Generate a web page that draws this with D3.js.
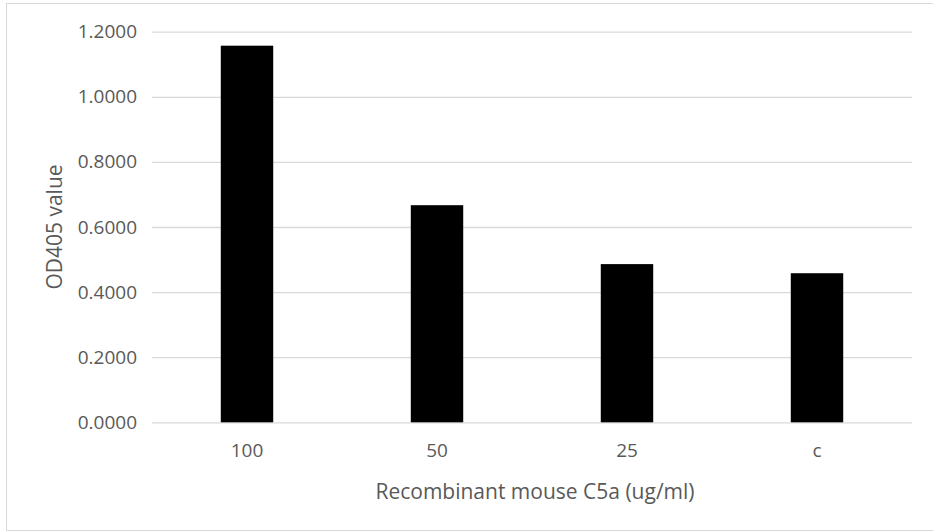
<!DOCTYPE html>
<html>
<head>
<meta charset="utf-8">
<script src="https://cdn.jsdelivr.net/npm/d3@7"></script>
<style>
  body { margin: 0; background: #fff; }
  text { font-family: "Open Sans", sans-serif; fill: #595959; }
</style>
</head>
<body>
<svg></svg>
<script>
const categories = ["100", "50", "25", "c"]
const odValues = [1.157, 0.667, 0.486, 0.458]
const yTicks = [0, 0.2, 0.4, 0.6, 0.8, 1.0, 1.2]

const [WIDTH, HEIGHT] = [933, 532]
const plot = { left: 152, right: 912, top: 31.7, bottom: 422.3 }

const svg = d3.select("svg")
  .attr("width", WIDTH)
  .attr("height", HEIGHT)

// chart border
svg.append("rect")
  .attr("x", 6.5)
  .attr("y", 3.5)
  .attr("width", WIDTH - 6)
  .attr("height", 527)
  .attr("fill", "white")
  .attr("stroke", "#d9d9d9")

const x = d3.scaleBand()
  .domain(categories)
  .range([plot.left, plot.right])
  .paddingInner(0.724)
  .paddingOuter(0.362)

const y = d3.scaleLinear()
  .domain([0, 1.2])
  .range([plot.bottom, plot.top])

// gridlines + tick labels
const yAxis = d3.axisLeft(y)
  .tickValues(yTicks)
  .tickFormat(d3.format(".4f"))
  .tickSize(-(plot.right - plot.left))
  .tickPadding(15)

svg.append("g")
  .attr("transform", `translate(${plot.left},0)`)
  .call(yAxis)
  .call((g) => g.select(".domain").remove())
  .call((g) => g.selectAll(".tick line").attr("stroke", "#d9d9d9").attr("stroke-width", 1.3))
  .call((g) => g.selectAll(".tick text").attr("font-size", 19).attr("fill", "#666"))

svg.append("g")
  .selectAll("rect")
  .data(odValues)
  .enter()
  .append("rect")
  .attr("x", (d, i) => x(categories[i]))
  .attr("y", (d) => y(d))
  .attr("width", x.bandwidth())
  .attr("height", (d) => y(0) - y(d))
  .attr("fill", "#000")

const xAxis = d3.axisBottom(x).tickSize(0).tickPadding(21)

svg.append("g")
  .attr("transform", `translate(0,${plot.bottom})`)
  .call(xAxis)
  .call((g) => g.select(".domain").remove())
  .call((g) => g.selectAll(".tick text").attr("font-size", 19).attr("fill", "#666"))

// axis titles
svg.append("text")
  .attr("x", (plot.left + plot.right) / 2 + 3)
  .attr("y", 499)
  .attr("text-anchor", "middle")
  .attr("font-size", 21)
  .attr("fill", "#666")
  .text("Recombinant mouse C5a (ug/ml)")

svg.append("text")
  .attr("transform", `translate(62,${(plot.top + plot.bottom) / 2}) rotate(-90)`)
  .attr("text-anchor", "middle")
  .attr("font-size", 21)
  .attr("fill", "#666")
  .text("OD405 value")
</script>
</body>
</html>
